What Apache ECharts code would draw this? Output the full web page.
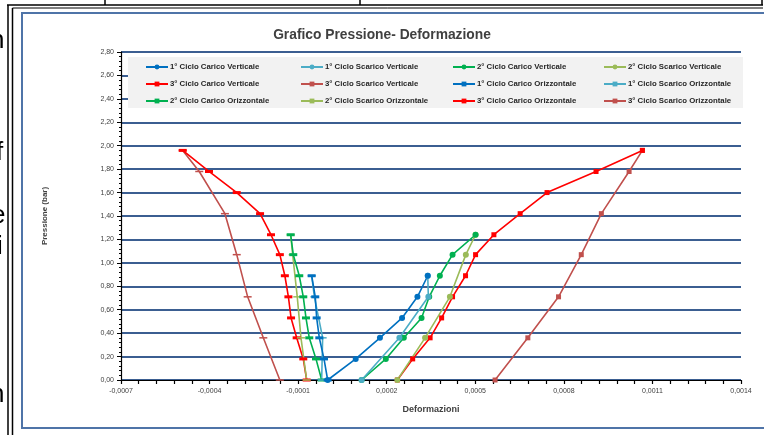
<!DOCTYPE html>
<html>
<head>
<meta charset="utf-8">
<script src="https://cdn.jsdelivr.net/npm/echarts@6/dist/echarts.min.js"></script>
<style>
html,body{margin:0;padding:0;background:#fff;overflow:hidden}
#chart{width:764px;height:435px}
</style>
</head>
<body>
<div id="chart"></div>
<script>
// Pressure steps (bar) for each loading / unloading branch
const pCarico1 = [0, 0.18, 0.36, 0.53, 0.71, 0.89];
const pScarico1 = [0.89, 0.71, 0.36, 0];
const pCarico2 = [0, 0.18, 0.36, 0.53, 0.71, 0.89, 1.07, 1.24];
const pScarico2 = [1.24, 1.07, 0.71, 0.36, 0];
const pCarico3 = [0, 0.18, 0.36, 0.53, 0.71, 0.89, 1.07, 1.24, 1.42, 1.60, 1.78, 1.96];
const pScarico3 = [1.96, 1.78, 1.42, 1.07, 0.71, 0.36, 0];

// Vertical deformations
const vCarico1 = [0, 0.000095, 0.000177, 0.000252, 0.000304, 0.000339];
const vScarico1 = [0.000339, 0.000341, 0.000243, 0.000115];
const vCarico2 = [0.000115, 0.000197, 0.000258, 0.000318, 0.000344, 0.000380, 0.000423, 0.000501];
const vScarico2 = [0.000501, 0.000468, 0.000414, 0.000330, 0.000236];
const vCarico3 = [0.000236, 0.000288, 0.000347, 0.000386, 0.000423, 0.000467, 0.000501, 0.000563, 0.000652, 0.000743, 0.000909, 0.001066];
const vScarico3 = [0.001066, 0.001021, 0.000927, 0.000859, 0.000782, 0.000678, 0.000567];

// Horizontal deformations
const hCarico1 = [0, -0.0000124, -0.0000283, -0.0000373, -0.000042, -0.0000542];
const hScarico1 = [-0.0000542, -0.000045, -0.000017, -0.0000203];
const hCarico2 = [-0.0000203, -0.0000396, -0.0000623, -0.0000735, -0.0000826, -0.0000962, -0.0001165, -0.0001253];
const hScarico2 = [-0.0001253, -0.0001185, -0.000103, -0.0000904, -0.0000711];
const hCarico3 = [-0.0000711, -0.0000826, -0.000105, -0.000124, -0.000133, -0.000145, -0.000162, -0.000192, -0.000229, -0.000308, -0.000402, -0.000491];
const hScarico3 = [-0.000491, -0.000435, -0.000348, -0.000308, -0.000271, -0.000218, -0.000162];

// Axis labels
const xTickLabels = [-0.0007, -0.0004, -0.0001, 0.0002, 0.0005, 0.0008, 0.0011, 0.0014];

const names = {
  cv1: '1° Ciclo Carico Verticale', sv1: '1° Ciclo Scarico Verticale',
  cv2: '2° Ciclo Carico Verticale', sv2: '2° Ciclo Scarico Verticale',
  cv3: '3° Ciclo Carico Verticale', sv3: '3° Ciclo Scarico Verticale',
  co1: '1° Ciclo Carico Orizzontale', so1: '1° Ciclo Scarico Orizzontale',
  co2: '2° Ciclo Carico Orizzontale', so2: '2° Ciclo Scarico Orizzontale',
  co3: '3° Ciclo Carico Orizzontale', so3: '3° Ciclo Scarico Orizzontale'
};

const colors = {
  c1: '#0070C0', s1: '#4BACC6',
  c2: '#00B050', s2: '#9BBB59',
  c3: '#FF0000', s3: '#C0504D'
};

function pairs(defs, press) {
  return press.map((p, i) => [defs[i], p]);
}

function mkSeries(name, defs, press, color, symbol, size) {
  return {
    name: name,
    type: 'line',
    data: pairs(defs, press),
    color: color,
    symbol: symbol,
    symbolSize: size,
    showAllSymbol: true,
    lineStyle: { width: 1.6, color: color },
    itemStyle: { color: color },
    emphasis: { disabled: true },
    z: 3
  };
}

const series = [
  mkSeries(names.so3, hScarico3, pScarico3, colors.s3, 'rect', [8, 1.5]),
  mkSeries(names.co3, hCarico3, pCarico3, colors.c3, 'rect', [8, 3]),
  mkSeries(names.so2, hScarico2, pScarico2, colors.s2, 'rect', [8, 1.5]),
  mkSeries(names.co2, hCarico2, pCarico2, colors.c2, 'rect', [8, 3]),
  mkSeries(names.so1, hScarico1, pScarico1, colors.s1, 'rect', [8, 1.5]),
  mkSeries(names.co1, hCarico1, pCarico1, colors.c1, 'rect', [8, 3]),
  mkSeries(names.sv3, vScarico3, pScarico3, colors.s3, 'rect', 5),
  mkSeries(names.cv3, vCarico3, pCarico3, colors.c3, 'rect', 5),
  mkSeries(names.sv2, vScarico2, pScarico2, colors.s2, 'circle', 6),
  mkSeries(names.cv2, vCarico2, pCarico2, colors.c2, 'circle', 6),
  mkSeries(names.sv1, vScarico1, pScarico1, colors.s1, 'circle', 6),
  mkSeries(names.cv1, vCarico1, pCarico1, colors.c1, 'circle', 6)
];

const legendCols = [
  { left: 145, data: [names.cv1, names.cv3, names.co2] },
  { left: 300, data: [names.sv1, names.sv3, names.so2] },
  { left: 452, data: [names.cv2, names.co1, names.co3] },
  { left: 603, data: [names.sv2, names.so1, names.so3] }
];

const legends = legendCols.map(c => ({
  orient: 'vertical',
  left: c.left,
  top: 63,
  padding: 0,
  data: c.data,
  itemWidth: 22,
  itemHeight: 6,
  itemGap: 9,
  selectedMode: false,
  z: 8,
  textStyle: {
    fontFamily: 'Liberation Sans',
    fontSize: 7.8,
    fontWeight: 'bold',
    color: '#262626',
    padding: [0, 0, 0, -3]
  }
}));

// Tick marks every fifth of a label step along the deformation axis
const xTicks = [];
for (let k = 0; k <= 35; k++) xTicks.push(Math.round((-0.0007 + k * 0.00006) * 1e8) / 1e8);

const fmtX = v => (Math.abs(v) < 1e-12 ? 0 : v).toFixed(4).replace('.', ',');
const fmtY = v => v.toFixed(2).replace('.', ',');

const fragStyle = t => ({ text: t, fontSize: 26, fontFamily: 'Liberation Sans', fill: '#000' });

// Frame lines of the surrounding page and letter fragments at the left margin
const pageGraphic = [
  { type: 'line', shape: { x1: 7, y1: 5, x2: 763, y2: 5 }, style: { stroke: '#000', lineWidth: 1.5 } },
  { type: 'line', shape: { x1: 105, y1: 0, x2: 105, y2: 5 }, style: { stroke: '#000', lineWidth: 1.5 } },
  { type: 'line', shape: { x1: 360, y1: 0, x2: 360, y2: 5 }, style: { stroke: '#000', lineWidth: 1.5 } },
  { type: 'line', shape: { x1: 762, y1: 0, x2: 762, y2: 5 }, style: { stroke: '#000', lineWidth: 1.5 } },
  { type: 'line', shape: { x1: 8, y1: 5, x2: 8, y2: 435 }, style: { stroke: '#000', lineWidth: 1.5 } },
  { type: 'line', shape: { x1: 12.5, y1: 8, x2: 12.5, y2: 435 }, style: { stroke: '#000', lineWidth: 1.5 } },
  { type: 'line', shape: { x1: 12.5, y1: 8, x2: 763, y2: 8 }, style: { stroke: '#000', lineWidth: 1 } },
  { type: 'text', x: -10, y: 28, style: fragStyle('n') },
  { type: 'text', x: -4, y: 140, style: fragStyle('f') },
  { type: 'text', x: -9, y: 203, style: fragStyle('e') },
  { type: 'text', x: -3, y: 234, style: fragStyle('i') },
  { type: 'text', x: -10, y: 382, style: fragStyle('n') },
  // chart area border
  { type: 'rect', shape: { x: 22, y: 13, width: 780, height: 415 }, style: { fill: 'none', stroke: '#4F74A8', lineWidth: 2 }, z: 1 },
  // legend box
  { type: 'rect', shape: { x: 128, y: 57, width: 615, height: 51 }, style: { fill: '#F2F2F2', stroke: 'none' }, z: 5 }
];

const chart = echarts.init(document.getElementById('chart'), null, { renderer: 'canvas' });
chart.setOption({
  backgroundColor: '#fff',
  animation: false,
  title: {
    text: 'Grafico Pressione- Deformazione',
    left: 'center',
    top: 23,
    textStyle: { fontFamily: 'Liberation Sans', fontSize: 13.8, fontWeight: 'bold', color: '#404040' }
  },
  legend: legends,
  graphic: { elements: pageGraphic },
  grid: { left: 121, right: 23, top: 52, bottom: 55, containLabel: false },
  xAxis: {
    type: 'value',
    min: -0.0007,
    max: 0.0014,
    name: 'Deformazioni',
    nameLocation: 'middle',
    nameGap: 25,
    nameTextStyle: { fontFamily: 'Liberation Sans', fontSize: 9, fontWeight: 'bold', color: '#404040' },
    axisLine: { onZero: false, lineStyle: { color: '#000', width: 1.2 } },
    axisTick: { show: true, length: 4, customValues: xTicks, lineStyle: { color: '#000', width: 1.2 } },
    axisLabel: {
      customValues: xTickLabels,
      formatter: fmtX,
      fontFamily: 'Liberation Sans',
      fontSize: 7,
      color: '#404040',
      margin: 8
    },
    splitLine: { show: false }
  },
  yAxis: {
    type: 'value',
    min: 0,
    max: 2.8,
    interval: 0.2,
    name: 'Pressione (bar)',
    nameLocation: 'middle',
    nameGap: 72,
    nameTextStyle: { fontFamily: 'Liberation Sans', fontSize: 8, fontWeight: 'bold', color: '#404040' },
    axisLine: { show: true, onZero: false, lineStyle: { color: '#000', width: 1.2 } },
    axisTick: { show: true, length: 4, lineStyle: { color: '#000', width: 1 } },
    minorTick: { show: true, splitNumber: 5, length: 2, lineStyle: { color: '#000', width: 1 } },
    axisLabel: { formatter: fmtY, fontFamily: 'Liberation Sans', fontSize: 7, color: '#404040', margin: 7 },
    splitLine: { show: true, lineStyle: { color: '#3B5E91', width: 2 } }
  },
  series: series
});
</script>
</body>
</html>
